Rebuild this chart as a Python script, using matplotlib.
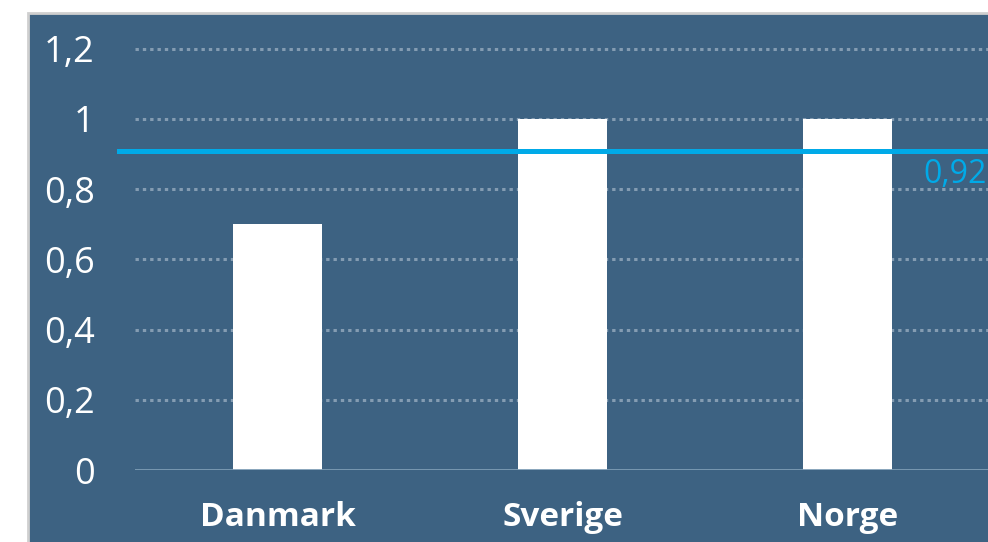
import matplotlib
matplotlib.use("Agg")
import matplotlib.pyplot as plt
from matplotlib.patches import Rectangle
from matplotlib.lines import Line2D

categories = ["Danmark", "Sverige", "Norge"]
values = [0.70, 1.0, 1.0]
reference_value = 0.908
reference_label = "0,92"
y_ticks = [0, 0.2, 0.4, 0.6, 0.8, 1.0, 1.2]
y_tick_labels = ["0", "0,2", "0,4", "0,6", "0,8", "1", "1,2"]

W, H = 988, 542
fig = plt.figure(figsize=(W / 100, H / 100), dpi=100)
fig.patch.set_facecolor("white")
panel_color = "#3D6282"
# panel background
fig.patches.append(Rectangle((28 / W, -0.01), 1, (H - 13) / H + 0.01, transform=fig.transFigure,
                             facecolor=panel_color, edgecolor="#CFCFCF", linewidth=2, zorder=-5))

ax_left, ax_bottom = 135 / W, 72 / H
unit = 351
ax = fig.add_axes([ax_left, ax_bottom, 855 / W, 1.25 * unit / H])
ax.set_zorder(1)
ax.set_facecolor("none")
ax.set_xlim(-0.5, 2.5)
ax.set_ylim(0, 1.25)

x = list(range(len(categories)))
ax.bar(x, values, width=0.31, color="white", zorder=3)

for yv in y_ticks[1:]:
    ax.axhline(yv, color="#849CB2", linestyle=(0, (1.1, 1.3)), linewidth=2.2, zorder=1)
ax.axhline(0, color="#7D9DB5", linewidth=2, zorder=4)

# reference line extends slightly left of the axes
ax.add_line(Line2D([-0.5 - 16 / 285, 2.5], [reference_value, reference_value],
                   color="#00AAE8", linewidth=3.6, clip_on=False, zorder=5))
ax.text(2.5 - 3 / 285, reference_value - 0.018, reference_label, ha="right", va="top",
        color="#00AAE8", fontsize=23, family="Open Sans", zorder=5)

ax.set_xticks(x)
ax.set_xticklabels(categories, fontsize=24, fontweight="bold", family="Open Sans", color="white")
ax.set_yticks(y_ticks)
ax.set_yticklabels(y_tick_labels, fontsize=26, family="Open Sans", color="white")
ax.tick_params(axis="both", length=0)
ax.tick_params(axis="y", pad=29)
ax.tick_params(axis="x", pad=22)
for s in ax.spines.values():
    s.set_visible(False)

fig.savefig("out.png", dpi=100, facecolor="white")
